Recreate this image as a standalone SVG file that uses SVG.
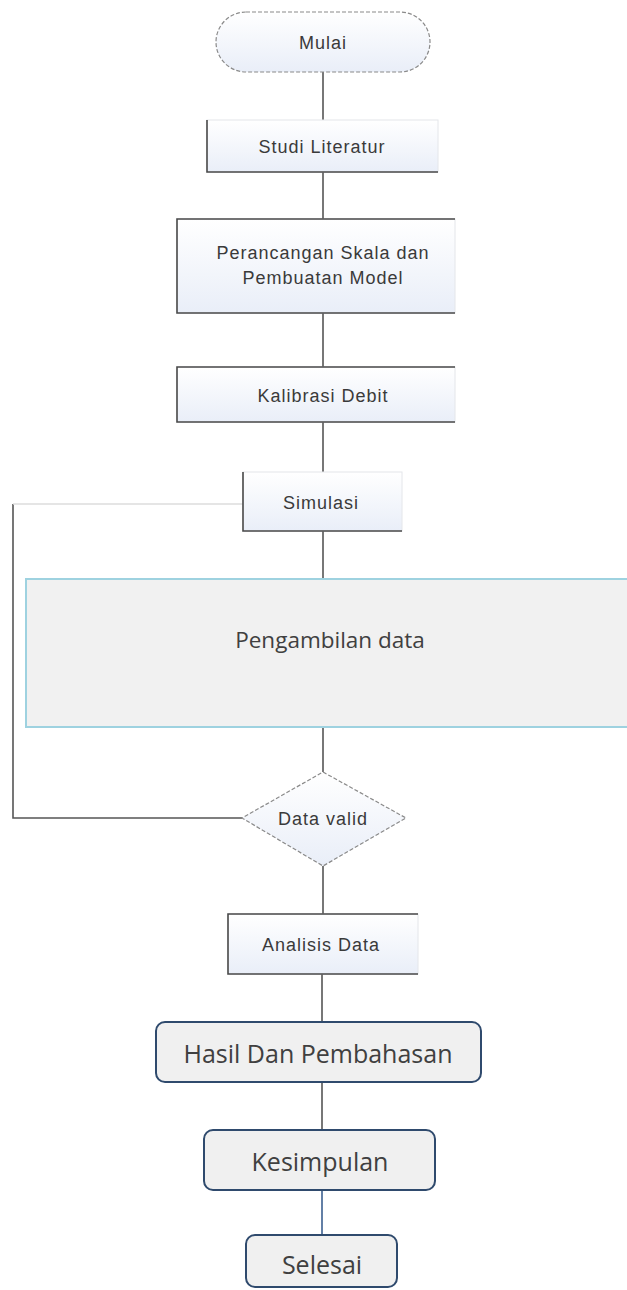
<svg xmlns="http://www.w3.org/2000/svg" width="627" height="1290" viewBox="0 0 627 1290">
  <defs>
    <linearGradient id="boxFill" x1="0" y1="0" x2="0" y2="1">
      <stop offset="0" stop-color="#ffffff"/>
      <stop offset="1" stop-color="#e9eef8"/>
    </linearGradient>
    <style>
      .proc { fill: url(#boxFill); stroke: #e4e6ea; stroke-width: 1; }
      .edge { fill: none; stroke: #4a4a4a; stroke-width: 1.6; }
      .dash { fill: url(#boxFill); stroke: #8a8a8a; stroke-width: 1.2; stroke-dasharray: 4 2; }
      .lbl { font-family: "Liberation Sans", Arial, sans-serif; font-size: 18px; fill: #3a3a3a; text-anchor: middle; letter-spacing: 1px; }
      .big { font-family: "Open Sans", "Noto Sans", sans-serif; fill: #404040; text-anchor: middle; }
      .rnd { fill: #f0f0f0; stroke: #2f4a6d; stroke-width: 2; }
      .conn { fill: none; stroke: #555555; stroke-width: 1.6; }
    </style>
  </defs>

  <rect width="627" height="1290" fill="#ffffff"/>

  <!-- connectors -->
  <g id="connectors">
    <line class="conn" x1="323" y1="72" x2="323" y2="120"/>
    <line class="conn" x1="323" y1="172" x2="323" y2="219"/>
    <line class="conn" x1="323" y1="313" x2="323" y2="367"/>
    <line class="conn" x1="323" y1="422" x2="323" y2="472"/>
    <line class="conn" x1="323" y1="531" x2="323" y2="579"/>
    <line class="conn" x1="323" y1="727" x2="323" y2="772"/>
    <line class="conn" x1="323" y1="866" x2="323" y2="914"/>
    <line class="conn" x1="322" y1="974" x2="322" y2="1022"/>
    <line class="conn" x1="322" y1="1082" x2="322" y2="1130"/>
    <line x1="322" y1="1190" x2="322" y2="1235" stroke="#3c6090" stroke-width="1.6"/>
    <!-- loop back from decision to Simulasi -->
    <polyline class="conn" points="242,818 13,818 13,504"/>
    <line x1="13" y1="504" x2="243" y2="504" stroke="#dcdcdc" stroke-width="1.4"/>
  </g>

  <g id="mulai">
    <rect class="dash" x="216" y="12" width="214" height="60" rx="30" ry="30"/>
    <text class="lbl" x="323" y="49">Mulai</text>
  </g>

  <g id="studi-literatur">
    <rect class="proc" x="207" y="120" width="231" height="52"/>
    <path class="edge" d="M207,120 V172 H438"/>
    <text class="lbl" x="322" y="153">Studi Literatur</text>
  </g>

  <g id="perancangan">
    <rect class="proc" x="177" y="219" width="278" height="94"/>
    <path class="edge" d="M455,219 H177 V313 H455"/>
    <text class="lbl" x="323" y="259">Perancangan Skala dan</text>
    <text class="lbl" x="323" y="284">Pembuatan Model</text>
  </g>

  <g id="kalibrasi">
    <rect class="proc" x="177" y="367" width="278" height="55"/>
    <path class="edge" d="M455,367 H177 V422 H455"/>
    <text class="lbl" x="323" y="402">Kalibrasi Debit</text>
  </g>

  <g id="simulasi">
    <rect class="proc" x="243" y="472" width="159" height="59"/>
    <path class="edge" d="M243,472 V531 H402"/>
    <text class="lbl" x="321" y="509">Simulasi</text>
  </g>

  <g id="pengambilan-data">
    <rect x="26" y="579" width="603" height="148" fill="#f1f1f1" stroke="#9ed2e0" stroke-width="2"/>
    <text class="big" x="330" y="648" font-size="22.5" fill="#555555">Pengambilan data</text>
  </g>

  <g id="data-valid">
    <polygon class="dash" points="323,772 406,818 323,866 242,818"/>
    <text class="lbl" x="323" y="825">Data valid</text>
  </g>

  <g id="analisis-data">
    <rect class="proc" x="228" y="914" width="190" height="60"/>
    <path class="edge" d="M418,914 H228 V974 H418"/>
    <text class="lbl" x="321" y="951">Analisis Data</text>
  </g>

  <g id="hasil">
    <rect class="rnd" x="156" y="1022" width="325" height="60" rx="9" ry="9"/>
    <text class="big" x="318" y="1063" font-size="25">Hasil Dan Pembahasan</text>
  </g>

  <g id="kesimpulan">
    <rect class="rnd" x="204" y="1130" width="231" height="60" rx="9" ry="9"/>
    <text class="big" x="320" y="1171" font-size="25">Kesimpulan</text>
  </g>

  <g id="selesai">
    <rect class="rnd" x="246" y="1235" width="151" height="52" rx="9" ry="9"/>
    <text class="big" x="322" y="1274" font-size="25">Selesai</text>
  </g>
</svg>
